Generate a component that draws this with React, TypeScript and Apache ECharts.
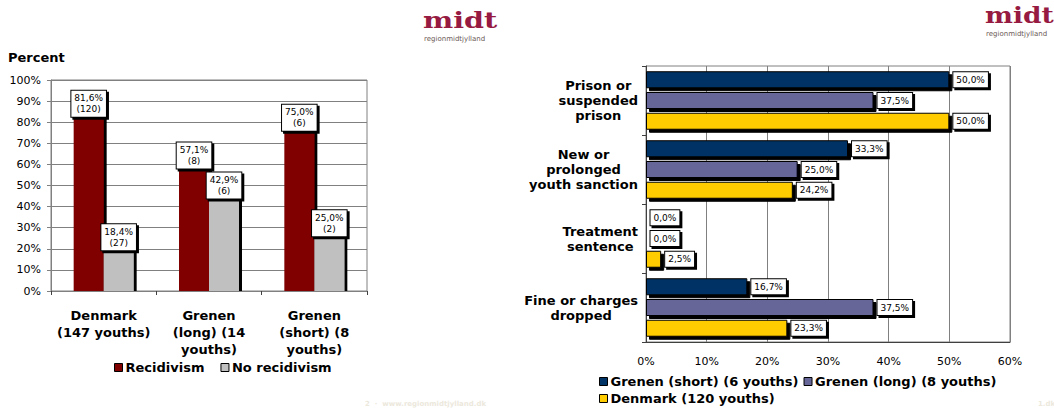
import React, { useEffect, useRef } from "react";
import * as echarts from "echarts";

// Left chart data
const leftCategories = ["Denmark\n(147 youths)", "Grenen\n(long) (14\nyouths)", "Grenen\n(short) (8\nyouths)"];
const recidivismPct = [81.6, 57.1, 75.0];
const recidivismCount = [120, 8, 6];
const noRecidivismPct = [18.4, 42.9, 25.0];
const noRecidivismCount = [27, 6, 2];

// Right chart data
const rightCategories = [
  ["Prison or", "suspended", "prison"],
  ["New or", "prolonged", "youth sanction"],
  ["Treatment", "sentence"],
  ["Fine or charges", "dropped"],
];
const grenenShort = [50.0, 33.3, 0.0, 16.7];
const grenenLong = [37.5, 25.0, 0.0, 37.5];
const denmark = [50.0, 24.2, 2.5, 23.3];
const rightSeriesNames = ["Grenen (short) (6 youths)", "Grenen (long) (8 youths)", "Denmark (120 youths)"];

const FONT = "DejaVu Sans";
const fmt = (v: number) => v.toFixed(1).replace(".", ",") + "%";

const boxLabel = {
  backgroundColor: "#fff",
  borderColor: "#000",
  borderWidth: 1,
  padding: [2, 3, 2, 3],
  fontSize: 9,
  lineHeight: 11,
  color: "#000",
  fontFamily: FONT,
  shadowColor: "#000",
  shadowOffsetX: 2,
  shadowOffsetY: 2,
  shadowBlur: 0,
};

const legendItemStyle = {
  borderColor: "#000",
  borderWidth: 1,
  shadowColor: "transparent",
  shadowBlur: 0,
  shadowOffsetX: 0,
  shadowOffsetY: 0,
};

const legendText = { fontFamily: FONT, fontWeight: "bold", fontSize: 13, color: "#000", padding: [0, 0, 0, -2] };

export default function App() {
  const ref = useRef<HTMLDivElement>(null);
  useEffect(() => {
    document.body.style.margin = "0";
    const chart = echarts.init(ref.current!, undefined, { renderer: "svg" });
    const logo = (x: number, y: number, sx: number) => [
      {
        type: "text",
        x,
        y,
        scaleX: sx,
        style: { text: "midt", fontFamily: "DejaVu Serif", fontWeight: "bold", fontSize: 22, fill: "#961a41" },
      },
      {
        type: "text",
        x: x + 1,
        y: y + 26,
        style: { text: "regionmidtjylland", fontFamily: FONT, fontSize: 7, fill: "#6b5a55" },
      },
    ];
    chart.setOption({
      animation: false,
      backgroundColor: "#fff",
      textStyle: { fontFamily: FONT },
      graphic: [
        ...logo(423, 9, 1.3),
        ...logo(985, 4, 1.2),
        {
          type: "text",
          x: 8,
          y: 51,
          style: { text: "Percent", fontFamily: FONT, fontWeight: "bold", fontSize: 13, fill: "#000" },
        },
        {
          type: "text",
          x: 365,
          y: 400,
          style: { text: "2  ·  www.regionmidtjylland.dk", fontFamily: FONT, fontWeight: "bold", fontSize: 7, fill: "#ece8dc" },
        },
        {
          type: "text",
          x: 1038,
          y: 400,
          style: { text: "1.dk", fontFamily: FONT, fontWeight: "bold", fontSize: 7, fill: "#ece8dc" },
        },
      ],
      grid: [
        { left: 51, top: 80, width: 316, height: 211, show: true, borderColor: "#808080", borderWidth: 1 },
        { left: 646, top: 66, width: 364, height: 276, show: true, borderColor: "#808080", borderWidth: 1 },
      ],
      legend: [
        {
          left: 114,
          top: 361,
          padding: 0,
          icon: "rect",
          itemWidth: 8,
          itemHeight: 8,
          itemGap: 16,
          data: ["Recidivism", "No recidivism"],
          itemStyle: legendItemStyle,
          textStyle: legendText,
        },
        {
          left: 599,
          top: 375,
          padding: 0,
          icon: "rect",
          itemWidth: 8,
          itemHeight: 8,
          itemGap: 5,
          data: [rightSeriesNames[0], rightSeriesNames[1]],
          itemStyle: legendItemStyle,
          textStyle: legendText,
        },
        {
          left: 599,
          top: 392,
          padding: 0,
          icon: "rect",
          itemWidth: 8,
          itemHeight: 8,
          data: [rightSeriesNames[2]],
          itemStyle: legendItemStyle,
          textStyle: legendText,
        },
      ],
      xAxis: [
        {
          type: "category",
          gridIndex: 0,
          data: leftCategories,
          axisLine: { lineStyle: { color: "#808080" } },
          axisTick: { show: true, length: 4, lineStyle: { color: "#404040" } },
          axisLabel: {
            interval: 0,
            fontFamily: FONT,
            fontWeight: "bold",
            fontSize: 13,
            lineHeight: 17,
            color: "#000",
            margin: 16,
          },
        },
        {
          type: "value",
          gridIndex: 1,
          min: 0,
          max: 60,
          interval: 10,
          axisLine: { show: true, lineStyle: { color: "#404040" } },
          axisTick: { show: false },
          splitLine: { show: true, lineStyle: { color: "#808080" } },
          axisLabel: { fontFamily: FONT, fontSize: 11, color: "#000", margin: 14, formatter: "{value}%" },
        },
      ],
      yAxis: [
        {
          type: "value",
          gridIndex: 0,
          min: 0,
          max: 100,
          interval: 10,
          axisLine: { show: true, lineStyle: { color: "#808080" } },
          axisTick: { show: true, length: 4, lineStyle: { color: "#808080" } },
          splitLine: { show: true, lineStyle: { color: "#808080" } },
          axisLabel: { fontFamily: FONT, fontSize: 11, color: "#000", margin: 10, formatter: "{value}%" },
        },
        {
          type: "category",
          gridIndex: 1,
          inverse: true,
          data: rightCategories.map((c) => c.join("\n")),
          axisLine: { show: true, lineStyle: { color: "#404040" } },
          axisTick: { show: true, length: 4, lineStyle: { color: "#404040" } },
          axisLabel: {
            interval: 0,
            margin: 8,
            align: "right",
            formatter: (v: string) => v.split("\n").map((l) => "{a|" + l + "}").join("\n"),
            rich: {
              a: { fontFamily: FONT, fontWeight: "bold", fontSize: 13, lineHeight: 15, color: "#000", align: "center" },
            },
          },
        },
      ],
      series: [
        {
          name: "Recidivism",
          type: "bar",
          xAxisIndex: 0,
          yAxisIndex: 0,
          data: recidivismPct,
          barWidth: 30,
          barGap: "0%",
          itemStyle: { color: "#800000", shadowColor: "#000", shadowOffsetX: 3, shadowOffsetY: 0, shadowBlur: 0 },
          label: {
            show: true,
            position: "top",
            distance: 2,
            align: "center",
            formatter: (p: any) => fmt(p.value) + "\n(" + recidivismCount[p.dataIndex] + ")",
            ...boxLabel,
          },
        },
        {
          name: "No recidivism",
          type: "bar",
          xAxisIndex: 0,
          yAxisIndex: 0,
          data: noRecidivismPct,
          barWidth: 30,
          barGap: "0%",
          itemStyle: { color: "#c0c0c0", shadowColor: "#000", shadowOffsetX: 3, shadowOffsetY: 0, shadowBlur: 0 },
          label: {
            show: true,
            position: "top",
            distance: 2,
            align: "center",
            formatter: (p: any) => fmt(p.value) + "\n(" + noRecidivismCount[p.dataIndex] + ")",
            ...boxLabel,
          },
        },
        ...[grenenShort, grenenLong, denmark].map((d, i) => ({
          name: rightSeriesNames[i],
          type: "bar",
          xAxisIndex: 1,
          yAxisIndex: 1,
          data: d,
          barWidth: 17,
          barGap: "22%",
          itemStyle: {
            color: ["#003366", "#666699", "#ffcc00"][i],
            borderColor: "#000",
            borderWidth: 1,
            shadowColor: "#000",
            shadowOffsetX: 3,
            shadowOffsetY: 3,
            shadowBlur: 0,
          },
          label: {
            show: true,
            position: "right",
            distance: 4,
            formatter: (p: any) => fmt(p.value),
            ...boxLabel,
          },
        })),
      ],
    });
    return () => chart.dispose();
  }, []);
  return <div ref={ref} style={{ position: "absolute", left: 0, top: 0, width: 1054, height: 409 }} />;
}
